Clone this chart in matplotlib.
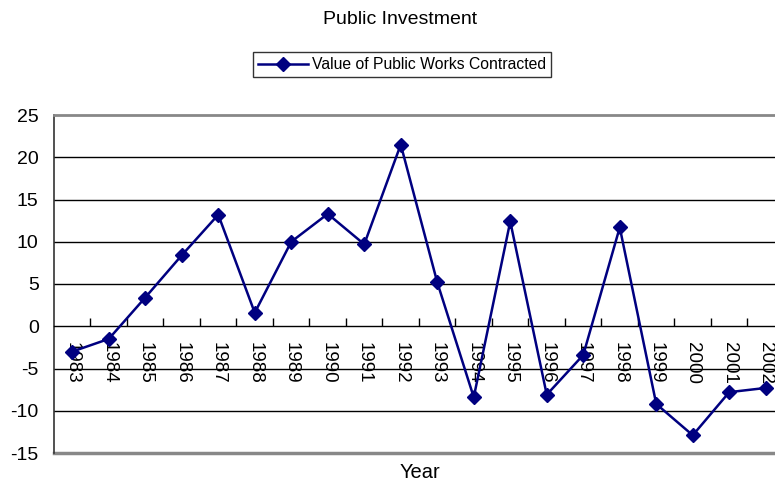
import matplotlib
matplotlib.use("Agg")
import matplotlib.pyplot as plt
from matplotlib.ticker import FixedLocator, FuncFormatter, NullFormatter

plt.rcParams['font.family'] = ['Liberation Sans', 'DejaVu Sans']

years = ['1983', '1984', '1985', '1986', '1987', '1988', '1989', '1990', '1991', '1992',
         '1993', '1994', '1995', '1996', '1997', '1998', '1999', '2000', '2001', '2002']
values = [-3.0, -1.5, 3.4, 8.4, 13.2, 1.6, 10.0, 13.3, 9.7, 21.5,
          5.2, -8.4, 12.4, -8.1, -3.4, 11.7, -9.2, -12.9, -7.8, -7.3]
y_ticks = [-15, -10, -5, 0, 5, 10, 15, 20, 25]

W, H = 775, 483
fig = plt.figure(figsize=(W / 100, H / 100), dpi=100)
ax = fig.add_axes([54 / W, 30 / H, 730 / W, 338 / H])

n = len(years)
centers = [i + 0.5 for i in range(n)]
line, = ax.plot(centers, values, color='#000080', lw=1.8, marker='D', ms=7,
                markerfacecolor='#000080', markeredgecolor='#000080',
                label='Value of Public Works Contracted', zorder=5)

ax.set_xlim(0, n)
ax.set_ylim(y_ticks[0], y_ticks[-1])

# horizontal gridlines
for t in y_ticks[1:-1]:
    if t != 0:
        ax.axhline(t, color='black', lw=1, zorder=1)

# category axis drawn at zero with inward ticks on category boundaries
ax.spines['bottom'].set_position(('data', 0))
ax.spines['bottom'].set_color('black')
ax.spines['bottom'].set_linewidth(1)
ax.spines['top'].set_color('#888888')
ax.spines['top'].set_linewidth(2)
ax.spines['right'].set_visible(False)
ax.spines['left'].set_color('#333333')
ax.spines['left'].set_linewidth(1.2)
ax.axhline(y_ticks[0], color='#888888', lw=2.5, zorder=1, clip_on=False)

ax.xaxis.set_major_locator(FixedLocator(range(1, n)))
ax.xaxis.set_major_formatter(NullFormatter())
ax.xaxis.set_minor_locator(FixedLocator(centers))
ax.set_xticklabels(years, minor=True)
ax.tick_params(axis='x', which='major', direction='in', length=6, width=1, color='black')
ax.tick_params(axis='x', which='minor', length=0, pad=11)
for lab in ax.get_xticklabels(minor=True):
    lab.set_rotation(270)
    lab.set_fontsize(13.5)
    lab.set_va('top')
    lab.set_ha('center')

ax.yaxis.set_major_locator(FixedLocator(y_ticks))
ax.yaxis.set_major_formatter(FuncFormatter(lambda v, p: f"{int(v)}".replace('\u2212', '-')))
ax.tick_params(axis='y', length=0, pad=11, labelsize=14)

fig.text(400 / W, 1 - 19 / H, 'Public Investment', ha='center', va='center', fontsize=14)
fig.text(420 / W, 1 - 472 / H, 'Year', ha='center', va='center', fontsize=14.5)

leg = fig.legend(handles=[line], loc='center', bbox_to_anchor=(402 / W, 1 - 64.5 / H),
                 frameon=True, fancybox=False, fontsize=11.3, handlelength=3.2,
                 borderpad=0.35, handletextpad=0.2, borderaxespad=0)
leg.get_frame().set_edgecolor('black')
leg.get_frame().set_linewidth(1)

fig.savefig('out.png', dpi=100)
